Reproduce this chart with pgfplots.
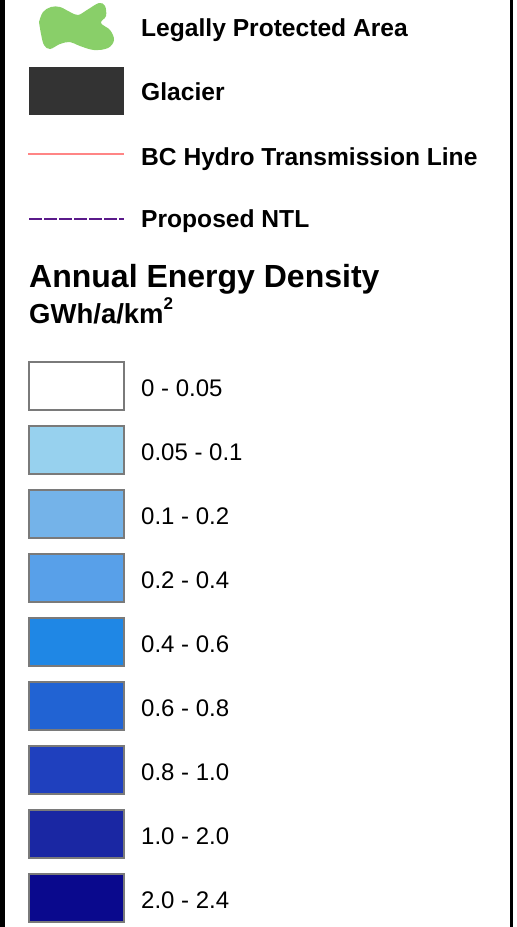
\documentclass[border=0pt]{standalone}
\usepackage{fontspec}
\setmainfont{Liberation Sans}
\usepackage{pgfplots}
\pgfplotsset{compat=1.18}
\definecolor{cA}{HTML}{FFFFFF}
\definecolor{cB}{HTML}{97D1EE}
\definecolor{cC}{HTML}{74B3E9}
\definecolor{cD}{HTML}{58A0E9}
\definecolor{cE}{HTML}{1F87E5}
\definecolor{cF}{HTML}{2163D3}
\definecolor{cG}{HTML}{1F40BE}
\definecolor{cH}{HTML}{1A27A3}
\definecolor{cI}{HTML}{0A098D}
\definecolor{green}{HTML}{89CF69}
\definecolor{glacier}{HTML}{333333}
\definecolor{pinkline}{HTML}{FF8585}
\definecolor{purpline}{HTML}{5A1A8A}
\definecolor{swborder}{HTML}{7A7A7A}
\begin{document}
\begin{tikzpicture}
\begin{axis}[
  scale only axis, width=517pt, height=927pt,
  xmin=0, xmax=517, ymin=0, ymax=927, y dir=reverse,
  hide axis, clip=false,
]
% borders
\addplot[black, line width=5pt] coordinates {(2.5,-10) (2.5,937)};
\addplot[black, line width=3.5pt] coordinates {(511.5,-10) (511.5,937)};
% protected area blob
\addplot[fill=green, draw=none, smooth, tension=0.6] coordinates {
 (39,22) (43,12) (51,7) (60,7) (70,12) (78,15) (87,10) (99,3) (105,6) (106,16) (101,23)
 (110,30) (114,40) (108,48) (94,50) (80,46) (70,42) (60,44) (50,49) (44,45) (41,34) (39,22)};
% glacier
\addplot[fill=glacier, draw=none] coordinates {(29,67) (124,67) (124,115) (29,115)} -- cycle;
% lines
\addplot[pinkline, line width=2.3pt] coordinates {(28,154) (124,154)};
\addplot[purpline, line width=2.3pt, dash pattern=on 13pt off 2pt] coordinates {(29,219) (124,219)};
% swatches
\addplot[fill=cA, draw=swborder, line width=2pt] coordinates {(29,362) (124,362) (124,410) (29,410)} -- cycle;
\addplot[fill=cB, draw=swborder, line width=2pt] coordinates {(29,426) (124,426) (124,474) (29,474)} -- cycle;
\addplot[fill=cC, draw=swborder, line width=2pt] coordinates {(29,490) (124,490) (124,538) (29,538)} -- cycle;
\addplot[fill=cD, draw=swborder, line width=2pt] coordinates {(29,554) (124,554) (124,602) (29,602)} -- cycle;
\addplot[fill=cE, draw=swborder, line width=2pt] coordinates {(29,618) (124,618) (124,666) (29,666)} -- cycle;
\addplot[fill=cF, draw=swborder, line width=2pt] coordinates {(29,682) (124,682) (124,730) (29,730)} -- cycle;
\addplot[fill=cG, draw=swborder, line width=2pt] coordinates {(29,746) (124,746) (124,794) (29,794)} -- cycle;
\addplot[fill=cH, draw=swborder, line width=2pt] coordinates {(29,810) (124,810) (124,858) (29,858)} -- cycle;
\addplot[fill=cI, draw=swborder, line width=2pt] coordinates {(29,874) (124,874) (124,922) (29,922)} -- cycle;
% texts
\tikzset{bt/.style={anchor=base west, inner sep=0pt, font=\fontsize{24.6}{28}\selectfont\bfseries},
         nt/.style={anchor=base west, inner sep=0pt, font=\fontsize{24}{28}\selectfont}}
\node[bt] at (axis cs:141,36) {Legally Protected Area};
\node[bt] at (axis cs:141,100) {Glacier};
\node[bt] at (axis cs:141,165) {BC Hydro Transmission Line};
\node[bt] at (axis cs:141,227) {Proposed NTL};
\node[anchor=base west, inner sep=0pt, font=\fontsize{32}{34}\selectfont\bfseries] at (axis cs:29,287) {Annual Energy Density};
\node[anchor=base west, inner sep=0pt, font=\fontsize{27.5}{30}\selectfont\bfseries] at (axis cs:29,323) {GWh/a/km\raisebox{14pt}{\fontsize{17}{17}\selectfont 2}};
\node[nt] at (axis cs:141,396) {0 - 0.05};
\node[nt] at (axis cs:141,460) {0.05 - 0.1};
\node[nt] at (axis cs:141,524) {0.1 - 0.2};
\node[nt] at (axis cs:141,588) {0.2 - 0.4};
\node[nt] at (axis cs:141,652) {0.4 - 0.6};
\node[nt] at (axis cs:141,716) {0.6 - 0.8};
\node[nt] at (axis cs:141,780) {0.8 - 1.0};
\node[nt] at (axis cs:141,844) {1.0 - 2.0};
\node[nt] at (axis cs:141,908) {2.0 - 2.4};
\end{axis}
\pgfresetboundingbox
\useasboundingbox (0,0) rectangle (517pt,927pt);
\end{tikzpicture}
\end{document}
